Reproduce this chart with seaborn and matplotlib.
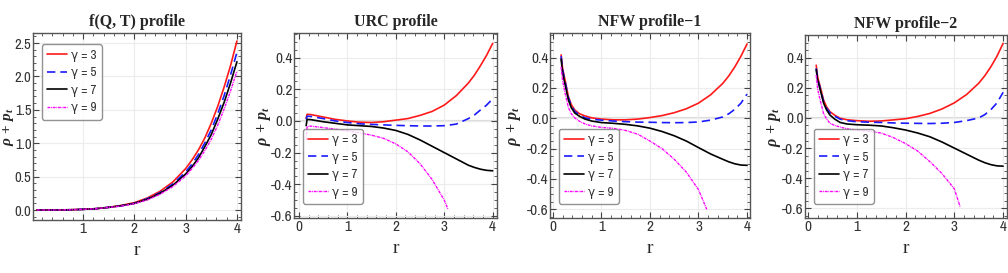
import numpy as np
import pandas as pd
import matplotlib
matplotlib.use("Agg")
import matplotlib.pyplot as plt
import seaborn as sns
from matplotlib import font_manager
from matplotlib.ticker import MultipleLocator, FormatStrFormatter

# ---- data ----
GAMMAS = [3, 5, 7, 9]

# f(Q, T) profile
r_fqt = [0.1, 0.25, 0.5, 0.75, 1.0, 1.25, 1.5, 1.75, 2.0, 2.25, 2.5, 2.75, 3.0, 3.125, 3.25, 3.375, 3.5, 3.625, 3.75, 3.875, 4.0]
fqt_g3 = [0.0, 0.0, 0.001, 0.004, 0.01, 0.02, 0.04, 0.07, 0.11, 0.18, 0.28, 0.42, 0.62, 0.75, 0.90, 1.08, 1.30, 1.55, 1.84, 2.16, 2.53]
fqt_g5 = [0.0, 0.0, 0.001, 0.004, 0.01, 0.02, 0.04, 0.065, 0.10, 0.17, 0.26, 0.39, 0.57, 0.69, 0.83, 1.005, 1.20, 1.44, 1.71, 2.02, 2.36]
fqt_g7 = [0.0, 0.0, 0.001, 0.004, 0.01, 0.02, 0.04, 0.065, 0.10, 0.16, 0.25, 0.37, 0.54, 0.65, 0.78, 0.95, 1.13, 1.36, 1.61, 1.90, 2.22]
fqt_g9 = [0.0, 0.0, 0.001, 0.004, 0.01, 0.02, 0.04, 0.06, 0.095, 0.15, 0.235, 0.35, 0.51, 0.62, 0.74, 0.89, 1.06, 1.27, 1.51, 1.78, 2.08]

# URC profile
r_urc = [0.15, 0.17, 0.25, 0.5, 0.75, 1.0, 1.25, 1.5, 1.75, 2.0, 2.25, 2.5, 2.75, 3.0, 3.25, 3.5, 3.625, 3.75, 3.875, 4.0]
urc_g3 = [0.017, 0.042, 0.040, 0.025, 0.010, 0.0, -0.008, -0.010, -0.005, 0.005, 0.015, 0.035, 0.06, 0.10, 0.16, 0.24, 0.29, 0.35, 0.415, 0.49]
urc_g5 = [0.01, 0.03, 0.028, 0.015, 0.0, -0.01, -0.018, -0.022, -0.025, -0.028, -0.03, -0.032, -0.032, -0.03, -0.02, 0.015, 0.038, 0.07, 0.10, 0.14]
urc_g7 = [-0.03, 0.01, 0.008, -0.005, -0.015, -0.025, -0.03, -0.035, -0.045, -0.06, -0.085, -0.12, -0.16, -0.20, -0.24, -0.28, -0.294, -0.305, -0.312, -0.315]
r_urc_g9 = [0.15, 0.17, 0.25, 0.5, 0.75, 1.0, 1.25, 1.5, 1.75, 2.0, 2.25, 2.5, 2.75, 3.0, 3.08]
urc_g9 = [-0.12, -0.035, -0.033, -0.042, -0.052, -0.063, -0.075, -0.09, -0.11, -0.145, -0.195, -0.27, -0.37, -0.50, -0.56]

# NFW profiles
r_nfw = [0.17, 0.2, 0.25, 0.32, 0.38, 0.45, 0.55, 0.66, 0.8, 1.0, 1.25, 1.5, 1.75, 2.0, 2.25, 2.5, 2.75, 3.0, 3.25, 3.5, 3.625, 3.75, 3.875, 4.0]
nfw1_g3 = [0.418, 0.33, 0.253, 0.143, 0.09, 0.055, 0.03, 0.016, 0.003, -0.005, -0.01, -0.01, -0.005, 0.005, 0.018, 0.037, 0.063, 0.10, 0.155, 0.23, 0.28, 0.34, 0.41, 0.49]
nfw1_g5 = [0.41, 0.32, 0.245, 0.135, 0.085, 0.045, 0.022, 0.003, -0.006, -0.012, -0.018, -0.022, -0.025, -0.026, -0.028, -0.029, -0.028, -0.024, -0.012, 0.009, 0.03, 0.06, 0.10, 0.16]
nfw1_g7 = [0.39, 0.30, 0.225, 0.12, 0.07, 0.035, 0.013, -0.005, -0.018, -0.028, -0.033, -0.04, -0.05, -0.065, -0.087, -0.115, -0.15, -0.193, -0.235, -0.27, -0.287, -0.30, -0.308, -0.31]
r_nfw1_g9 = [0.17, 0.2, 0.25, 0.32, 0.38, 0.45, 0.55, 0.66, 0.8, 1.0, 1.25, 1.5, 1.75, 2.0, 2.25, 2.5, 2.75, 3.0, 3.17]
nfw1_g9 = [0.34, 0.25, 0.167, 0.07, 0.03, 0.003, -0.02, -0.037, -0.05, -0.06, -0.066, -0.08, -0.105, -0.15, -0.20, -0.27, -0.355, -0.47, -0.60]

nfw2_g3 = [0.35, 0.27, 0.21, 0.12, 0.075, 0.042, 0.018, -0.002, -0.012, -0.018, -0.022, -0.02, -0.013, -0.005, 0.01, 0.03, 0.06, 0.10, 0.155, 0.23, 0.28, 0.34, 0.41, 0.495]
nfw2_g5 = [0.33, 0.26, 0.20, 0.11, 0.065, 0.035, 0.012, -0.008, -0.018, -0.025, -0.028, -0.03, -0.033, -0.035, -0.036, -0.037, -0.035, -0.03, -0.018, 0.0, 0.022, 0.055, 0.10, 0.17]
nfw2_g7 = [0.32, 0.25, 0.19, 0.10, 0.055, 0.02, -0.008, -0.03, -0.04, -0.045, -0.048, -0.053, -0.065, -0.08, -0.10, -0.125, -0.16, -0.20, -0.24, -0.28, -0.297, -0.31, -0.318, -0.32]
r_nfw2_g9 = [0.17, 0.2, 0.25, 0.32, 0.38, 0.45, 0.55, 0.66, 0.8, 1.0, 1.25, 1.5, 1.75, 2.0, 2.25, 2.5, 2.75, 3.0, 3.12]
nfw2_g9 = [0.285, 0.19, 0.12, 0.03, -0.005, -0.035, -0.05, -0.06, -0.072, -0.08, -0.088, -0.10, -0.13, -0.17, -0.22, -0.29, -0.37, -0.47, -0.59]

TITLES = ["f(Q, T) profile", "URC profile", "NFW profile\u22121", "NFW profile\u22122"]

# ---- style ----
sns.set_style("ticks")
# narrow sans for ticks/legend if one is installed
narrow = [f.name for f in font_manager.fontManager.ttflist
          if 'Narrow' in f.name or 'Condensed' in f.name]
plt.rcParams['font.family'] = (narrow[:1] if narrow else []) + ['DejaVu Sans']
plt.rcParams['font.stretch'] = 'condensed'
plt.rcParams['mathtext.fontset'] = 'custom'
plt.rcParams['mathtext.it'] = 'Liberation Serif:italic:bold'
plt.rcParams['mathtext.rm'] = 'Liberation Serif:bold'
plt.rcParams['mathtext.bf'] = 'Liberation Serif:bold'

LINE_STYLES = {
    3: dict(color='#ff1a1a', linestyle='-', linewidth=1.2),
    5: dict(color='#1a1aff', linestyle=(0, (5, 3)), linewidth=1.2),
    7: dict(color='black', linestyle='-', linewidth=1.2),
    9: dict(color='#ff00ff', linestyle=(0, (2, 0.6, 0.6, 0.6)), linewidth=1.0),
}

panels = [
    dict(series=[(r_fqt, fqt_g3), (r_fqt, fqt_g5), (r_fqt, fqt_g7), (r_fqt, fqt_g9)],
         xlim=(0.022, 4.078), ylim=(-0.15, 2.65), ymajor=0.5, ymin=0.1, xticks=[1, 2, 3, 4],
         rect=[0.0327, 0.194, 0.2063, 0.685], leg_loc='upper left', leg_anchor=(0.01, 0.975),
         ylab_x=-0.083, ylab_size=11, zero=False, ysize=10.5),
    dict(series=[(r_urc, urc_g3), (r_urc, urc_g5), (r_urc, urc_g7), (r_urc_g9, urc_g9)],
         xlim=(-0.1, 4.09), ylim=(-0.613, 0.556), ymajor=0.2, ymin=0.05, xticks=[0, 1, 2, 3, 4],
         rect=[0.2917, 0.2015, 0.2014, 0.678], leg_loc='lower left', leg_anchor=(0.01, 0.04),
         ylab_x=-0.105, ylab_size=11.5, zero=True, ysize=11),
    dict(series=[(r_nfw, nfw1_g3), (r_nfw, nfw1_g5), (r_nfw, nfw1_g7), (r_nfw1_g9, nfw1_g9)],
         xlim=(-0.06, 4.06), ylim=(-0.657, 0.563), ymajor=0.2, ymin=0.05, xticks=[0, 1, 2, 3, 4],
         rect=[0.5456, 0.2015, 0.1984, 0.678], leg_loc='lower left', leg_anchor=(0.01, 0.04),
         ylab_x=-0.135, ylab_size=11.5, zero=True, ysize=11),
    dict(series=[(r_nfw, nfw2_g3), (r_nfw, nfw2_g5), (r_nfw, nfw2_g7), (r_nfw2_g9, nfw2_g9)],
         xlim=(-0.06, 4.08), ylim=(-0.664, 0.55), ymajor=0.2, ymin=0.05, xticks=[0, 1, 2, 3, 4],
         rect=[0.7986, 0.2015, 0.2004, 0.670], leg_loc='lower left', leg_anchor=(0.01, 0.04),
         ylab_x=-0.11, ylab_size=11.5, zero=True, ysize=11),
]

fig = plt.figure(figsize=(10.08, 2.73), dpi=100)
fig.patch.set_facecolor('white')

for p, title in zip(panels, TITLES):
    ax = fig.add_axes(p['rect'])
    if p['zero']:
        ax.axhline(0, color='#dcdcdc', linewidth=1.6, zorder=0)
    for g, (rr, vals) in zip(GAMMAS, p['series']):
        sns.lineplot(x=rr, y=vals, ax=ax, label=f"\u03b3 = {g}", sort=False, **LINE_STYLES[g])

    ax.set_xlim(*p['xlim'])
    ax.set_ylim(*p['ylim'])
    ax.set_xticks(p['xticks'])
    ax.yaxis.set_major_locator(MultipleLocator(p['ymajor']))
    ax.yaxis.set_major_formatter(FormatStrFormatter('%.1f'))
    ax.xaxis.set_minor_locator(MultipleLocator(0.2))
    ax.yaxis.set_minor_locator(MultipleLocator(p['ymin']))
    ax.grid(True, which='major', color='#ececec', linewidth=0.8)
    ax.set_axisbelow(True)

    ax.tick_params(which='both', direction='in', top=True, right=True,
                   colors='#444444', labelcolor='#333333', labelsize=11, pad=1.5)
    ax.tick_params(axis='y', labelsize=p['ysize'], pad=1)
    ax.tick_params(which='major', length=4, width=0.8)
    ax.tick_params(which='minor', length=2, width=0.6)
    for s in ax.spines.values():
        s.set_color('#555555')
        s.set_linewidth(1.0)

    ax.set_title(title, fontsize=11.5, fontweight='bold', family='Liberation Serif',
                 fontstretch='normal', pad=5)
    ax.set_xlabel('r', fontsize=14, family='Liberation Serif', fontstretch='normal')
    ax.xaxis.set_label_coords(0.5, -0.12)
    ax.set_ylabel(r'$\rho\,+\,p_t$', fontsize=p['ylab_size'])
    ax.yaxis.set_label_coords(p['ylab_x'], 0.5)

    leg = ax.legend(loc=p['leg_loc'], bbox_to_anchor=p['leg_anchor'], fontsize=9.5,
                    handlelength=1.5, handletextpad=0.35, labelspacing=0.4,
                    borderpad=0.4, fancybox=True, frameon=True)
    leg.get_frame().set_edgecolor('#777777')
    leg.get_frame().set_linewidth(1.0)
    for t in leg.get_texts():
        t.set_color('#333333')

fig.savefig('out.png', dpi=100, facecolor='white')
